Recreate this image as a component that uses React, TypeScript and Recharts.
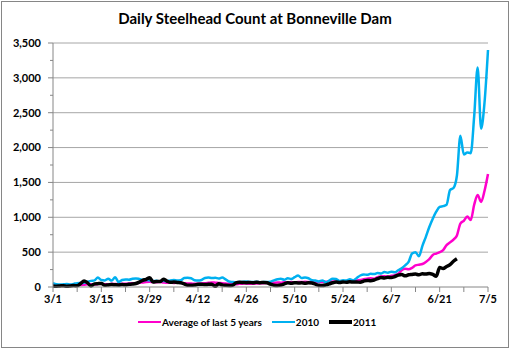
import React from 'react';
import { LineChart, Line, XAxis, YAxis, ReferenceLine, Legend } from 'recharts';

// daily counts, index 0 = 3/1, index 126 = 7/5
const avg5: number[] = [
  20, 22, 25, 28, 25, 30, 28, 35, 30, 32, 40, 38, 35, 42, 45, 40, 38, 45, 42, 40,
  48, 45, 50, 55, 52, 60, 65, 72, 75, 70, 68, 72, 65, 60, 62, 58, 65, 60, 55, 52,
  50, 45, 48, 52, 55, 60, 65, 62, 58, 55, 50, 45, 42, 40, 45, 48, 50, 45, 48, 50,
  52, 55, 58, 55, 60, 65, 62, 68, 65, 70, 68, 72, 70, 75, 72, 68, 65, 70, 72, 75,
  78, 80, 75, 78, 82, 80, 85, 88, 92, 100, 110, 118, 125, 120, 140, 150, 155, 150, 160, 170,
  190, 240, 260, 255, 275, 310, 320, 330, 360, 400, 460, 480, 500, 530, 600, 640, 680, 740, 910, 950,
  1010, 960, 1180, 1320, 1220, 1380, 1620,
];

const y2010: number[] = [
  55, 40, 35, 38, 42, 36, 45, 55, 58, 60, 75, 88, 95, 135, 100, 95, 118, 92, 140, 72,
  100, 108, 104, 118, 122, 115, 104, 100, 95, 85, 88, 80, 90, 84, 95, 100, 92, 96, 128, 132,
  125, 98, 92, 100, 130, 135, 128, 132, 122, 135, 110, 78, 72, 68, 70, 75, 80, 72, 70, 75,
  68, 72, 70, 75, 95, 110, 118, 105, 125, 115, 140, 165, 128, 135, 125, 98, 92, 80, 95, 68,
  90, 120, 115, 85, 98, 92, 110, 95, 130, 165, 180, 175, 190, 185, 200, 195, 215, 205, 220, 210,
  240, 270, 310, 360, 480, 500, 440, 590, 720, 860, 980, 1080, 1150, 1160, 1180, 1390, 1420, 1600, 2170, 1900,
  1930, 1920, 2450, 3150, 2270, 2650, 3400,
];

const y2011: number[] = [
  15, 12, 15, 18, 12, 15, 20, 18, 50, 86, 60, 15, 45, 48, 50, 25, 30, 35, 32, 30,
  35, 33, 38, 42, 50, 70, 96, 110, 134, 72, 80, 78, 110, 85, 67, 70, 65, 60, 45, 24,
  25, 30, 38, 40, 35, 38, 40, 10, 48, 30, 24, 22, 25, 60, 67, 65, 62, 65, 60, 68,
  62, 65, 60, 40, 25, 22, 28, 45, 60, 55, 62, 58, 60, 55, 62, 58, 40, 25, 22, 30,
  45, 60, 70, 65, 72, 68, 75, 70, 72, 68, 85, 95, 90, 100, 120, 135, 130, 140, 135, 150,
  170, 180, 160, 175, 180, 185, 175, 190, 185, 195, 180, 155, 280, 265, 295, 320, 370, 405,
];

const xTicks = [0, 7, 14, 21, 28, 35, 42, 49, 56, 63, 70, 77, 84, 91, 98, 105, 112, 119, 126];
const labelDays = [0, 14, 28, 42, 56, 70, 84, 98, 112, 126];
const labelText = ['3/1', '3/15', '3/29', '4/12', '4/26', '5/10', '5/24', '6/7', '6/21', '7/5'];
const yTicks = [0, 250, 500, 750, 1000, 1250, 1500, 1750, 2000, 2250, 2500, 2750, 3000, 3250, 3500];
const gridValues = [500, 1000, 1500, 2000, 2500, 3000, 3500];

const seriesInfo = [
  { key: 'avg', name: 'Average of last 5 years', color: '#FF00CC', width: 2.5 },
  { key: 'y2010', name: '2010', color: '#00B0F0', width: 2.5 },
  { key: 'y2011', name: '2011', color: '#000000', width: 3.5 },
];

const data = avg5.map((v, i) => ({
  day: i,
  avg: v,
  y2010: y2010[i],
  y2011: i < y2011.length ? y2011[i] : null,
}));

const FONT = 'Lato, "Open Sans", sans-serif';

const YTick = (props: any) => {
  const { x, y, payload } = props;
  const v = payload.value as number;
  const major = v % 500 === 0;
  return (
    <g>
      <line x1={x - (major ? 5 : 3)} x2={x} y1={y} y2={y} stroke="#868686" strokeWidth={1} />
      {major && (
        <text x={x - 12} y={y} dy="0.35em" textAnchor="end" fontSize={11} fontWeight={700} fill="#000" fontFamily={FONT}>
          {v.toLocaleString('en-US')}
        </text>
      )}
    </g>
  );
};

const formatX = (d: number) => {
  const idx = labelDays.indexOf(d);
  return idx >= 0 ? labelText[idx] : '';
};

const LegendContent = () => (
  <div style={{ display: 'flex', alignItems: 'center', paddingLeft: 138, fontFamily: FONT, fontSize: 10, fontWeight: 700, height: 16 }}>
    {seriesInfo.map((s) => (
      <div key={s.key} style={{ display: 'flex', alignItems: 'center', marginRight: 10 }}>
        <div style={{ width: 23, height: s.width, background: s.color, marginRight: 1 }} />
        <span>{s.name}</span>
      </div>
    ))}
  </div>
);

export default function App() {
  return (
    <div style={{ position: 'absolute', left: 0, top: 0, width: 510, height: 350, background: '#fff' }}>
      <div style={{ position: 'absolute', left: 1, top: 1, width: 506, height: 345, border: '1px solid #868686' }} />
      <div style={{ position: 'absolute', left: 0, top: 9, width: 510, textAlign: 'center', fontFamily: FONT, fontSize: 15, fontWeight: 700 }}>
        Daily Steelhead Count at Bonneville Dam
      </div>
      <div style={{ position: 'absolute', left: 0, top: 0 }}>
        <LineChart width={510} height={350} data={data} margin={{ top: 43, right: 22, left: 0, bottom: 20 }}>
          {gridValues.map((g) => (
            <ReferenceLine key={g} y={g} stroke="#A6A6A6" strokeWidth={1} />
          ))}
          <XAxis
            type="number"
            dataKey="day"
            domain={[0, 126]}
            ticks={xTicks}
            tickFormatter={formatX}
            interval={0}
            height={27}
            stroke="#868686"
            tickSize={5}
            tickMargin={3}
            tick={{ fontSize: 11, fontWeight: 700, fill: '#000', fontFamily: FONT }}
          />
          <YAxis
            domain={[0, 3500]}
            ticks={yTicks}
            interval={0}
            width={53}
            stroke="#868686"
            tickLine={false}
            tickSize={0}
            tickMargin={0}
            tick={<YTick />}
          />
          <Legend verticalAlign="bottom" height={16} content={<LegendContent />} />
          {seriesInfo.map((s) => (
            <Line
              key={s.key}
              type="monotone"
              dataKey={s.key}
              name={s.name}
              stroke={s.color}
              strokeWidth={s.width}
              dot={false}
              isAnimationActive={false}
              connectNulls={false}
            />
          ))}
        </LineChart>
      </div>
    </div>
  );
}
